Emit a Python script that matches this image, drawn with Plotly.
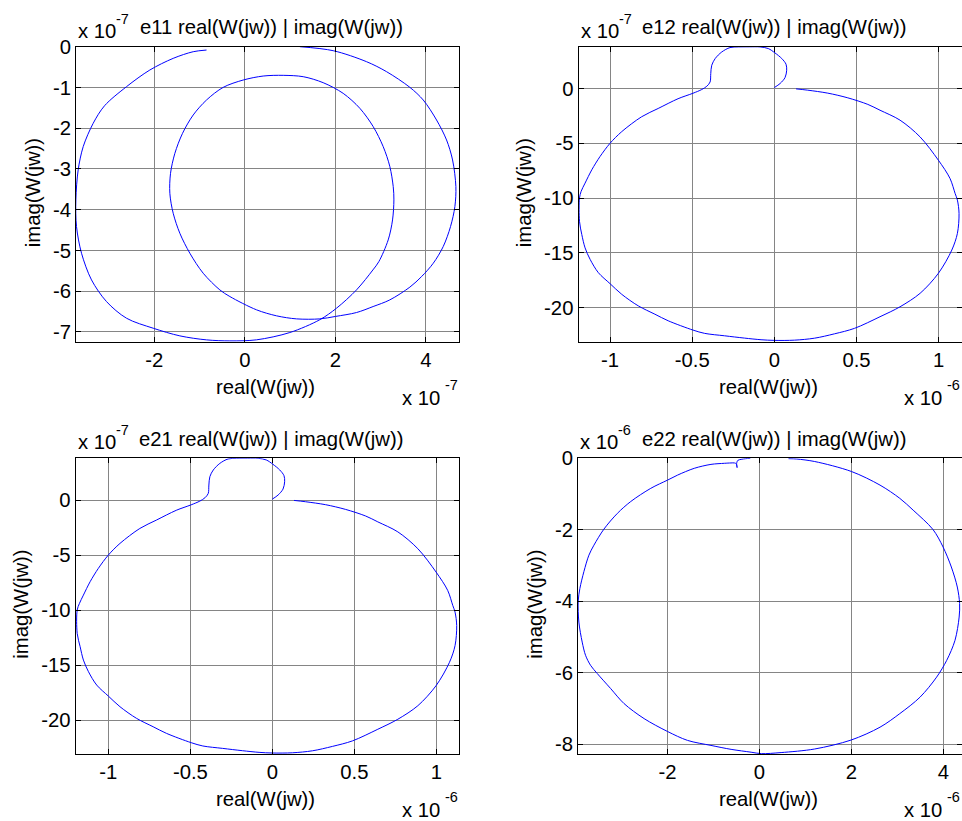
import plotly.graph_objects as go

W, H = 962, 821
FONT = "Liberation Sans, Arial, sans-serif"
FS = 20.3
FS_SUP = 14.5

# ---------------- data (values in units of the axis exponent) ----------------
# e11: real in 1e-7, imag in 1e-7
e11_re = [1.215, 1.951, 2.688, 3.130, 3.645, 3.940, 4.234, 4.455, 4.588, 4.661,
          4.639, 4.543, 4.381, 4.161, 3.903, 3.645, 3.202, 2.833, 2.467, 2.000,
          1.656, 1.142, 0.700, 0.258, -0.331, -0.552, -0.920, -1.215, -1.436, -1.583,
          -1.657, -1.642, -1.546, -1.377, -1.141, -0.847, -0.479, -0.037, 0.405, 0.847,
          1.289, 1.730, 2.172, 2.541, 2.835, 3.056, 3.203, 3.277, 3.292, 3.262,
          3.166, 2.960, 2.828, 2.467, 2.025, 1.656, 0.994, 0.258, -0.331, -0.847,
          -1.436, -2.025, -2.614, -3.056, -3.387, -3.608, -3.719, -3.733, -3.682, -3.571,
          -3.351, -3.100, -2.614, -2.099, -1.583, -1.141, -0.847]
e11_im = [0.000, -0.098, -0.368, -0.613, -0.998, -1.308, -1.799, -2.289, -2.780, -3.434,
          -3.925, -4.415, -4.906, -5.315, -5.642, -5.900, -6.214, -6.377, -6.524, -6.620,
          -6.680, -6.680, -6.605, -6.458, -6.132, -5.969, -5.560, -5.069, -4.579, -4.088,
          -3.598, -3.107, -2.617, -2.126, -1.676, -1.308, -0.998, -0.818, -0.720, -0.703,
          -0.736, -0.883, -1.145, -1.513, -1.962, -2.453, -2.944, -3.434, -3.761, -4.252,
          -4.742, -5.274, -5.479, -5.968, -6.417, -6.700, -7.015, -7.194, -7.220, -7.195,
          -7.097, -6.909, -6.664, -6.255, -5.724, -5.069, -4.415, -3.761, -3.025, -2.453,
          -1.881, -1.450, -0.981, -0.572, -0.286, -0.123, -0.082]

# e12: real in 1e-6, imag in 1e-7
e12_re = [0.000, 0.035, 0.065, 0.075, 0.071, 0.045, 0.004, -0.037, -0.087, -0.150,
          -0.219, -0.270, -0.320, -0.360, -0.381, -0.387, -0.391, -0.411, -0.442, -0.495,
          -0.586, -0.707, -0.808, -0.929, -1.000, -1.061, -1.111, -1.152, -1.176, -1.186,
          -1.186, -1.172, -1.152, -1.121, -1.071, -1.000, -0.929, -0.828, -0.727, -0.646,
          -0.495, -0.424, -0.303, -0.182, -0.081, 0.000, 0.122, 0.244, 0.366, 0.488,
          0.643, 0.765, 0.887, 0.998, 1.080, 1.114, 1.124, 1.114, 1.100, 1.069,
          0.998, 0.887, 0.765, 0.643, 0.569, 0.447, 0.325, 0.203, 0.132]
e12_im = [0.09, 0.46, 1.00, 1.67, 2.22, 2.74, 3.25, 3.65, 3.80, 3.81,
          3.80, 3.74, 3.34, 2.74, 2.13, 1.37, 0.60, 0.21, -0.09, -0.43,
          -0.93, -1.82, -2.58, -3.94, -5.00, -6.21, -7.42, -8.64, -9.39, -10.00,
          -12.12, -13.33, -14.55, -15.61, -16.82, -17.82, -18.79, -19.85, -20.61, -21.21,
          -22.06, -22.36, -22.58, -22.79, -22.94, -23.00, -22.98, -22.80, -22.40, -21.90,
          -20.84, -19.93, -18.70, -16.88, -14.75, -13.23, -11.41, -10.19, -9.58, -8.21,
          -6.54, -4.42, -2.89, -1.98, -1.45, -0.85, -0.42, -0.15, -0.03]

# e21: real in 1e-6, imag in 1e-7 (reads the same as e12)
e21_re = [0.000, 0.035, 0.065, 0.075, 0.071, 0.045, 0.004, -0.037, -0.087, -0.150,
          -0.219, -0.270, -0.320, -0.360, -0.381, -0.387, -0.391, -0.411, -0.442, -0.495,
          -0.586, -0.707, -0.808, -0.929, -1.000, -1.061, -1.111, -1.152, -1.176, -1.190,
          -1.190, -1.172, -1.152, -1.121, -1.071, -1.000, -0.929, -0.828, -0.727, -0.646,
          -0.495, -0.424, -0.303, -0.182, -0.081, 0.000, 0.122, 0.244, 0.366, 0.488,
          0.643, 0.765, 0.887, 0.998, 1.080, 1.114, 1.124, 1.114, 1.100, 1.069,
          0.998, 0.887, 0.765, 0.643, 0.569, 0.447, 0.325, 0.203, 0.132]
e21_im = [0.09, 0.46, 1.00, 1.67, 2.22, 2.74, 3.25, 3.65, 3.80, 3.81,
          3.80, 3.74, 3.34, 2.74, 2.13, 1.37, 0.60, 0.21, -0.09, -0.43,
          -0.93, -1.82, -2.58, -3.94, -5.00, -6.21, -7.42, -8.64, -9.39, -10.00,
          -12.12, -13.33, -14.55, -15.61, -16.82, -17.82, -18.79, -19.85, -20.61, -21.21,
          -22.06, -22.36, -22.58, -22.79, -22.94, -23.00, -22.98, -22.80, -22.40, -21.90,
          -20.84, -19.93, -18.70, -16.88, -14.75, -13.23, -11.41, -10.19, -9.58, -8.21,
          -6.54, -4.42, -2.89, -1.98, -1.45, -0.85, -0.42, -0.15, -0.03]

# e22: real in 1e-6, imag in 1e-6
e22_re = [0.63, 0.81, 1.20, 2.00, 2.62, 3.05, 3.34, 3.77, 3.99, 4.17,
          4.30, 4.35, 4.34, 4.25, 4.07, 3.85, 3.49, 3.05, 2.62, 1.99,
          1.20, 0.47, 0.04, -0.182, -0.618, -1.055, -1.564, -2.000, -2.509, -2.945,
          -3.236, -3.527, -3.673, -3.782, -3.855, -3.927, -3.942, -3.905, -3.818, -3.709,
          -3.600, -3.382, -3.090, -2.800, -2.364, -2.000, -1.782, -1.418, -1.055, -0.764,
          -0.620, -0.545, -0.500, -0.487, -0.500, -0.473, -0.400, -0.300, -0.200]
e22_im = [-0.01, -0.02, -0.09, -0.37, -0.75, -1.12, -1.45, -1.99, -2.48, -3.04,
          -3.60, -4.06, -4.44, -5.09, -5.65, -6.12, -6.68, -7.14, -7.52, -7.88,
          -8.13, -8.23, -8.26, -8.22, -8.14, -8.03, -7.89, -7.64, -7.28, -6.86,
          -6.44, -6.02, -5.79, -5.51, -5.14, -4.58, -4.00, -3.64, -3.17, -2.71,
          -2.43, -1.98, -1.54, -1.21, -0.84, -0.61, -0.47, -0.28, -0.17, -0.14,
          -0.13, -0.13, -0.16, -0.26, -0.17, -0.06, -0.03, -0.01, 0.00]

# tick values
xt_e11 = [-2, 0, 2, 4]
yt_e11 = [0, -1, -2, -3, -4, -5, -6, -7]
xt_e12 = [-1, -0.5, 0, 0.5, 1]
yt_e12 = [0, -5, -10, -15, -20]
xt_e22 = [-2, 0, 2, 4]
yt_e22 = [0, -2, -4, -6, -8]

titles = ["e11 real(W(jw)) | imag(W(jw))", "e12 real(W(jw)) | imag(W(jw))",
          "e21 real(W(jw)) | imag(W(jw))", "e22 real(W(jw)) | imag(W(jw))"]
y_exponents = ["-7", "-7", "-7", "-6"]
x_exponents = ["-7", "-6", "-6", "-6"]
x_label = "real(W(jw))"
y_label = "imag(W(jw))"


def lab(v):
    return ("%g" % v).replace("\u2212", "-")


def px(x):
    return x / W


def py(y):
    return 1 - y / H


panels = [
    dict(re=e11_re, im=e11_im, xr=[-3.73, 4.73], yr=[-7.24, 0.0], xt=xt_e11, yt=yt_e11,
         box=(76, 459, 46.7, 341.7), ylab_x=32.5, title_x=271, xlab_x=265.5, xexp_r=442),
    dict(re=e12_re, im=e12_im, xr=[-1.192, 1.142], yr=[-23.12, 3.82], xt=xt_e12, yt=yt_e12,
         box=(578.5, 962, 46.7, 341.7), ylab_x=523.5, title_x=773.5, xlab_x=768.5, xexp_r=944),
    dict(re=e21_re, im=e21_im, xr=[-1.199, 1.138], yr=[-23.09, 3.80], xt=xt_e12, yt=yt_e12,
         box=(75.7, 459, 458.3, 754), ylab_x=21, title_x=271, xlab_x=265.5, xexp_r=442),
    dict(re=e22_re, im=e22_im, xr=[-3.946, 4.402], yr=[-8.27, 0.0], xt=xt_e22, yt=yt_e22,
         box=(578, 962, 458.3, 754), ylab_x=535, title_x=773.5, xlab_x=768.5, xexp_r=944),
]

fig = go.Figure()
layout = {}
annotations = []
tickfont = dict(family=FONT, size=FS, color="black")
supfont = dict(family=FONT, size=FS_SUP, color="black")


def ann(text, x, y, xanchor="center", font=tickfont, angle=0, h=None):
    d = dict(text=text, x=px(x), y=py(y), xref="paper", yref="paper",
             xanchor=xanchor, yanchor="middle", showarrow=False, font=font,
             textangle=angle, valign="middle")
    if h is not None:
        d["height"] = h
    annotations.append(d)


for i, p in enumerate(panels):
    n = i + 1
    sx = "" if n == 1 else str(n)
    x0, x1, y0, y1 = p["box"]
    fig.add_trace(go.Scatter(x=p["re"], y=p["im"], mode="lines",
                             line=dict(color="#0000ff", width=1, shape="spline", smoothing=0.9),
                             xaxis="x" + sx, yaxis="y" + sx, showlegend=False,
                             hoverinfo="skip"))
    common = dict(showgrid=True, gridcolor="#858585", gridwidth=1,
                  zeroline=False, showline=True, linecolor="#000000", linewidth=1,
                  mirror="ticks", ticks="inside", ticklen=5, tickcolor="#000000",
                  tickfont=tickfont, tickmode="array", automargin=False)
    layout["xaxis" + sx] = dict(common, domain=[px(x0), px(x1)], range=p["xr"],
                                anchor="y" + sx, tickvals=p["xt"],
                                ticktext=[lab(v) for v in p["xt"]])
    layout["yaxis" + sx] = dict(common, domain=[py(y1), py(y0)], range=p["yr"],
                                anchor="x" + sx, tickvals=p["yt"],
                                ticktext=[lab(v) for v in p["yt"]])
    # title
    ann(titles[i], p["title_x"], y0 - 19.5)
    # y exponent (top-left): "x 10" and raised exponent
    ann("x 10", x0, y0 - 16, xanchor="left")
    ann(y_exponents[i], x0 + 38, y0 - 28, xanchor="left", font=supfont)
    # x exponent (bottom-right)
    ann("x 10", p["xexp_r"], y1 + 56, xanchor="right", h=18)
    ann(x_exponents[i], p["xexp_r"] + 1, y1 + 43, xanchor="left", font=supfont)
    # x label
    ann(x_label, p["xlab_x"], y1 + 45)
    # y label
    ann(y_label, p["ylab_x"], (y0 + y1) / 2 - 1.5, angle=-90)

fig.update_layout(**layout)
fig.update_layout(width=W, height=H, margin=dict(l=0, r=0, t=0, b=0, autoexpand=False),
                  paper_bgcolor="white", plot_bgcolor="white",
                  font=dict(family=FONT, size=FS, color="black"),
                  annotations=annotations, showlegend=False)
fig.write_html("out.html")
